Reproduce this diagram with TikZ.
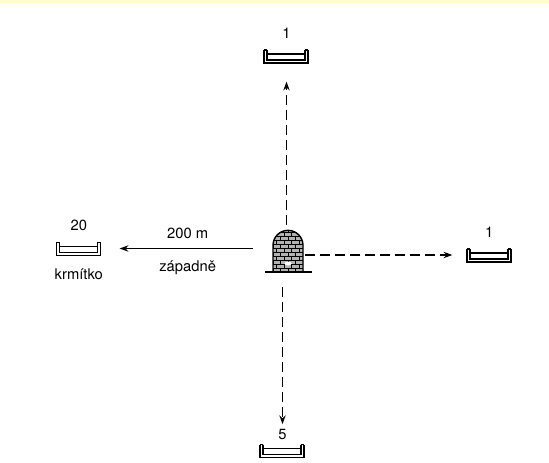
\documentclass[tikz,border=0pt]{standalone}
\usepackage{fontspec}
\setmainfont{TeX Gyre Heros}
\usepackage{tikz}
\usetikzlibrary{positioning, arrows.meta}
\definecolor{pruh}{HTML}{FFFFCC}
\tikzstyle{koryto} = [rectangle, minimum width=0.94cm, minimum height=0.32cm, inner sep=0pt]
\tikzstyle{stena} = [line width=0.75pt]
\tikzstyle{vez} = [rectangle, minimum width=0.6cm, minimum height=0.84cm, inner sep=0pt]
\tikzstyle{cihla} = [line width=0.4pt]
\tikzstyle{popis} = [inner sep=1pt]
\tikzstyle{arrow} = [line width=0.7pt, -{Stealth[length=5pt,width=3.6pt]}]
\tikzstyle{carkovane} = [dash pattern=on 0.2cm off 0.1cm]
\tikzstyle{every node}=[font=\fontsize{8.4}{10}\selectfont]

\begin{document}
\begin{tikzpicture}[node distance=2cm]
		\useasboundingbox (-5.76,-4.22) rectangle (5.22,5.02);
		\fill[pruh] (-5.76,4.95) rectangle (5.22,5.02);
		
		\node (vez) [vez] at (0,0) {};
		\node (koryto1) [koryto, above=3.3cm of vez, xshift=-0.03cm] {};
		\node (koryto20) [koryto, left=3.4cm of vez, yshift=0.05cm] {};
		\node (koryto1v) [koryto, right=3.24cm of vez, yshift=-0.08cm] {};
		\node (koryto5) [koryto, below=3.4cm of vez, xshift=-0.11cm] {};
		
		\node (pocet1) [popis, above=0.14cm of koryto1] {1};
		\node (pocet20) [popis, above=0.14cm of koryto20] {20};
		\node (nazev) [popis, below=0.2cm of koryto20] {krmítko};
		\node (pocet1v) [popis, above=0.14cm of koryto1v] {1};
		\node (pocet5) [popis, above=0.02cm of koryto5] {5};
		
		%krmitka
		\foreach \k in {koryto1,koryto20,koryto1v,koryto5} {
			\begin{scope}[shift={(\k.south west)}]
				\draw[stena] (0.03,0.29) -- (0.03,0.03) -- (0.91,0.03) -- (0.91,0.29);
				\draw[stena] (0.09,0.29) -- (0.09,0.09) -- (0.85,0.09) -- (0.85,0.29);
				\draw[stena] (0.03,0.29) -- (0.09,0.29) (0.85,0.29) -- (0.91,0.29);
				\draw[stena] (0.09,0.21) -- (0.85,0.21);
			\end{scope}
		}
		
		%vez z cihel
		\begin{scope}[shift={(vez.center)}]
			\path[fill=gray!60] (-0.3,-0.42) -- (-0.3,0.12) arc[start angle=180, end angle=0, radius=0.3] -- (0.3,-0.42) -- cycle;
			\clip (-0.3,-0.42) -- (-0.3,0.12) arc[start angle=180, end angle=0, radius=0.3] -- (0.3,-0.42) -- cycle;
			\foreach \r in {0,...,10} {
				\pgfmathsetmacro\yy{-0.42+0.08*\r}
				\pgfmathsetmacro\posun{mod(\r,2)*0.075}
				\draw[cihla] (-0.3,\yy) -- (0.3,\yy);
				\foreach \s in {0,...,4}
					\draw[cihla] ({-0.3+\posun+0.15*\s},\yy) -- ++(0,0.08);
			}
			\fill[white] (0,-0.25) ellipse (0.07 and 0.04);
		\end{scope}
		\draw[line width=0.8pt] ([xshift=-0.3cm]vez.south) -- ++(0,0.54) arc[start angle=180, end angle=0, radius=0.3] -- ([xshift=0.3cm]vez.south);
		\draw[line width=1pt] ([xshift=-0.46cm]vez.south) -- ([xshift=0.48cm]vez.south);
		
		%sipky ke krmitkum
		\draw [arrow, carkovane, shorten <=0.1cm, shorten >=0.34cm] (koryto1.south |- vez.north) -- (koryto1.south);
		\draw [arrow, shorten <=0.4cm, shorten >=0.34cm] (vez.west |- koryto20.east) -- node[popis, above=0.14cm] {200 m} node[popis, below=0.2cm] {západně} (koryto20.east);
		\draw [arrow, carkovane, shorten <=0.04cm, shorten >=0.26cm] (vez.east |- koryto1v.west) -- (koryto1v.west);
		\draw [arrow, carkovane, shorten <=0.3cm, shorten >=0.05cm] (pocet5.north |- vez.south) -- (pocet5.north);
		
	\end{tikzpicture}
\end{document}
